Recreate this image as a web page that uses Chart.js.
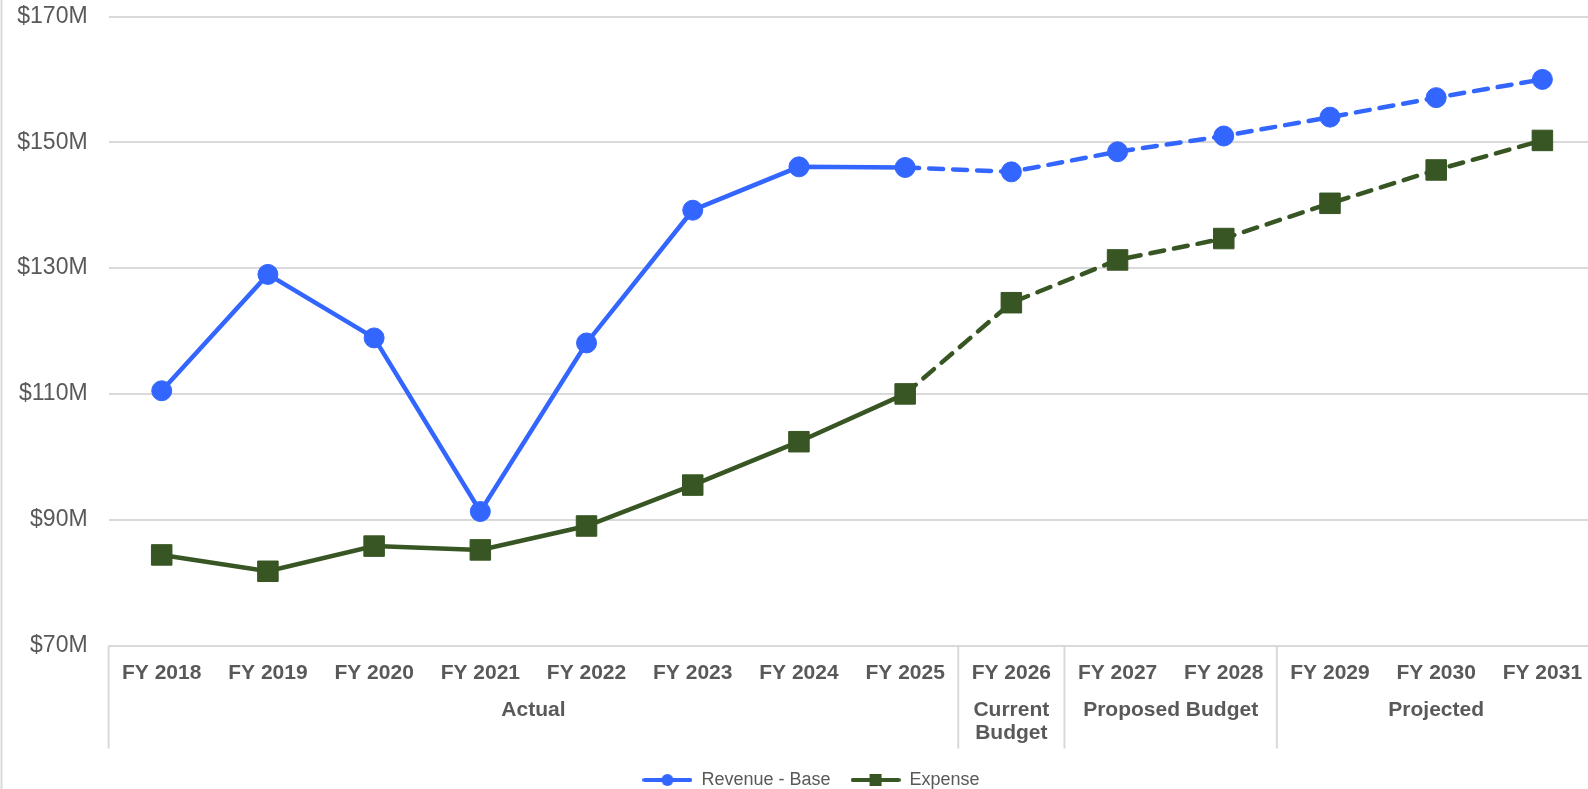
<!DOCTYPE html>
<html>
<head>
<meta charset="utf-8">
<script src="https://cdn.jsdelivr.net/npm/chart.js@4.4.1/dist/chart.umd.min.js"></script>
<style>
  html, body { margin: 0; padding: 0; background: #fff; }
  /* the plot runs a little past the right edge of the picture */
  #frame { width: 1588px; height: 789px; overflow: hidden; position: relative; }
  #wrap { width: 1611px; height: 799px; position: absolute; left: 0; top: 0; }
</style>
</head>
<body>
<div id="frame"><div id="wrap"><canvas id="chart"></canvas></div></div>
<script>
// Data
const years = ['FY 2018', 'FY 2019', 'FY 2020', 'FY 2021', 'FY 2022', 'FY 2023', 'FY 2024',
  'FY 2025', 'FY 2026', 'FY 2027', 'FY 2028', 'FY 2029', 'FY 2030', 'FY 2031'];
const revenueBase = [110.5, 129.0, 118.9, 91.3, 118.1, 139.2, 146.1, 146.0, 145.3, 148.5, 151.0, 154.0, 157.1, 160.0];
const expense = [84.4, 81.8, 85.8, 85.2, 89.0, 95.5, 102.4, 110.0, 124.5, 131.3, 134.7, 140.3, 145.6, 150.3];
const yTicks = [70, 90, 110, 130, 150, 170];

// Category groups under the year labels
const groupNames = [['Actual'], ['Current', 'Budget'], ['Proposed Budget'], ['Projected']];
const groupFirst = [0, 8, 9, 11];
const groupLast = [7, 8, 10, 13];

// Index of the last actual year; lines are dashed after it
const lastActual = 7;

const BLUE = '#3366ff';
const GREEN = '#375623';
const TEXT = '#595959';
const GRID = '#d9d9d9';
const FONT = "'Liberation Sans', Arial, sans-serif";

// Legend markers: a short line with the point on it
const legendMarker = (color, shape) => {
  const c = document.createElement('canvas');
  c.width = 50;
  c.height = 14;
  const g = c.getContext('2d');
  g.strokeStyle = color;
  g.lineWidth = 4;
  g.lineCap = 'round';
  g.beginPath();
  g.moveTo(2, 7);
  g.lineTo(48, 7);
  g.stroke();
  g.fillStyle = color;
  if (shape === 'circle') {
    g.beginPath();
    g.arc(25, 7, 6, 0, Math.PI * 2);
    g.fill();
  } else {
    g.fillRect(19, 1, 12, 12);
  }
  return c;
};
const markers = [legendMarker(BLUE, 'circle'), legendMarker(GREEN, 'rect')];

const dashAfterActual = ctx => ctx.p0DataIndex >= lastActual ? [14, 10] : undefined;

// Group labels and the separators below the x axis
const groupPlugin = {
  id: 'groups',
  afterLayout(chart) {
    // legend sits a bit right of the picture centre
    chart.legend.left += 7;
    chart.legend.right += 7;
  },
  afterDraw(chart) {
    const { ctx, chartArea } = chart;
    const x = chart.scales.x;
    const half = (x.getPixelForValue(1) - x.getPixelForValue(0)) / 2;
    const top = chartArea.bottom;
    const bottom = top + 103;

    ctx.save();
    ctx.strokeStyle = GRID;
    ctx.lineWidth = 2;
    // outer left border
    ctx.beginPath();
    ctx.moveTo(1.5, 0);
    ctx.lineTo(1.5, chart.height);
    ctx.stroke();

    const edges = [x.getPixelForValue(0) - half];
    groupLast.forEach(i => edges.push(x.getPixelForValue(i) + half));
    edges.forEach(px => {
      ctx.beginPath();
      ctx.moveTo(px, top);
      ctx.lineTo(px, bottom);
      ctx.stroke();
    });

    ctx.fillStyle = TEXT;
    ctx.font = `bold 21px ${FONT}`;
    ctx.textAlign = 'center';
    ctx.textBaseline = 'middle';
    groupNames.forEach((lines, g) => {
      const cx = (x.getPixelForValue(groupFirst[g]) + x.getPixelForValue(groupLast[g])) / 2;
      lines.forEach((txt, k) => ctx.fillText(txt, cx, top + 65 + k * 23));
    });
    ctx.restore();
  }
};

new Chart(document.getElementById('chart'), {
  type: 'line',
  data: {
    labels: years,
    datasets: [{
      label: 'Revenue - Base',
      data: revenueBase,
      borderColor: BLUE,
      backgroundColor: BLUE,
      borderWidth: 4.5,
      borderCapStyle: 'round',
      pointStyle: 'circle',
      pointRadius: 10,
      pointBorderWidth: 1,
      tension: 0,
      segment: { borderDash: dashAfterActual }
    }, {
      label: 'Expense',
      data: expense,
      borderColor: GREEN,
      backgroundColor: GREEN,
      borderWidth: 4.5,
      borderCapStyle: 'round',
      pointStyle: 'rect',
      pointRadius: 14.5,
      pointBorderWidth: 1,
      tension: 0,
      segment: { borderDash: dashAfterActual }
    }]
  },
  options: {
    responsive: true,
    maintainAspectRatio: false,
    animation: false,
    layout: { padding: { top: 16.5, right: 3, bottom: 0, left: 0 } },
    plugins: {
      tooltip: { enabled: false },
      legend: {
        position: 'bottom',
        labels: {
          usePointStyle: true,
          pointStyleWidth: 50,
          padding: 20,
          color: TEXT,
          font: { family: FONT, size: 18 },
          generateLabels: chart => chart.data.datasets.map((ds, i) => ({
            text: ds.label,
            pointStyle: markers[i],
            fillStyle: ds.borderColor,
            strokeStyle: ds.borderColor,
            lineWidth: 0,
            fontColor: TEXT,
            datasetIndex: i
          }))
        }
      }
    },
    scales: {
      x: {
        offset: true,
        grid: { display: false },
        border: { display: false },
        ticks: {
          autoSkip: false,
          maxRotation: 0,
          padding: 7,
          color: TEXT,
          font: { family: FONT, size: 21, weight: 'bold' }
        },
        afterFit: scale => {
          scale.height = 105.5;
          scale.paddingLeft = 0;
          scale.paddingRight = 0;
        }
      },
      y: {
        min: 70,
        max: 170,
        afterBuildTicks: scale => { scale.ticks = yTicks.map(v => ({ value: v })); },
        grid: { color: GRID, lineWidth: 2, drawTicks: false },
        border: { display: false },
        ticks: {
          padding: 21,
          color: TEXT,
          font: { family: FONT, size: 23 },
          callback: v => `$${v}M`
        },
        afterFit: scale => {
          scale.width = 108.6;
          scale.paddingTop = 0;
          scale.paddingBottom = 0;
        }
      }
    }
  },
  plugins: [groupPlugin]
});
</script>
</body>
</html>
